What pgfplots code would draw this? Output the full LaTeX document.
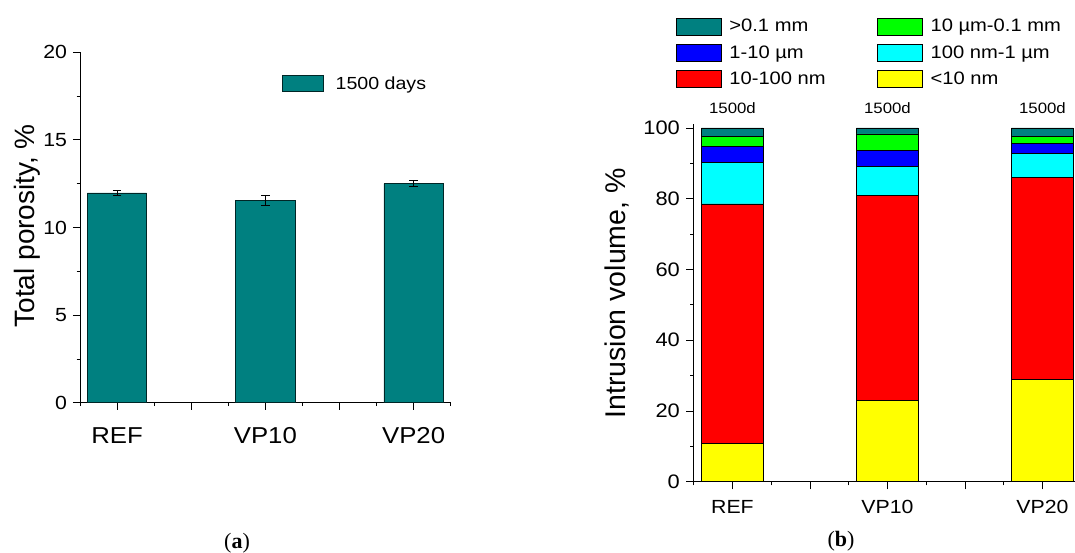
\documentclass[border=0pt]{standalone}
\usepackage{fontspec}
\setmainfont{Liberation Sans}[FakeStretch=1.12]
\newfontfamily\ylabfont{Liberation Sans}
\newfontfamily\capfont{Liberation Serif}
\usepackage{pgfplots}
\pgfplotsset{compat=1.18}
\usepackage{pgfplotstable}
\definecolor{cteal}{RGB}{0,128,128}
\definecolor{cgreen}{RGB}{0,255,0}
\definecolor{cblue}{RGB}{0,0,255}
\definecolor{ccyan}{RGB}{0,255,255}
\definecolor{cred}{RGB}{255,0,0}
\definecolor{cyellow}{RGB}{255,255,0}
\newcommand\fs[1]{\fontsize{#1}{#1}\selectfont}

\pgfplotstableread{
x y e
0 11.97 0.15
1 11.54 0.27
2 12.51 0.19
}\porosity

\pgfplotstableread{
x lt10 nm10 nm100 um1 um10 mm01
0 10.7 67.8 11.8 4.5 2.7 2.5
1 23.0 58.0 8.0 4.6 4.7 1.7
2 28.9 57.1 6.7 2.8 2.1 2.4
}\intrusion

\begin{document}
\begin{tikzpicture}[x=1pt,y=1pt]
\useasboundingbox (0,0) rectangle (1075,552);
% ---------------- (a)
\begin{axis}[
  at={(80pt,149.3pt)}, anchor=south west,
  scale only axis, width=370.7pt, height=350.4pt,
  xmin=-0.25, xmax=2.25, ymin=0, ymax=20,
  axis lines=left, axis line style={-, line width=1pt},
  ybar, bar width=0.4,
  legend image code/.code={\draw[#1] (0pt,-7.8pt) rectangle (41pt,7.8pt);},
  xtick={0,0.5,1,1.5,2}, xticklabels={REF,,VP10,,VP20},
  minor xtick={-0.25,0.25,0.75,1.25,1.75,2.25},
  ytick={0,5,10,15,20}, minor ytick={2.5,7.5,12.5,17.5},
  tick align=outside, major tick length=7pt, minor tick length=3.5pt,
  tick style={black, line width=0.8pt},
  /pgf/number format/assume math mode=true,
  yticklabel style={font=\fs{19}, inner sep=0pt, anchor=east, xshift=-5.8pt},
  xticklabel style={font=\fs{23}, inner sep=0pt, anchor=north, yshift=-17.5pt},
  ylabel={Total porosity,~\%},
  ylabel style={font=\ylabfont\fs{28}, at={([xshift=-45pt]axis description cs:0,0.505)}, anchor=base},
  legend style={at={(axis description cs:0.544,0.911)}, anchor=west, draw=none, fill=none,
    inner sep=0pt, nodes={inner sep=0pt}, font=\fs{17.5},
    /tikz/every odd column/.append style={column sep=12pt}},
  clip=false,
]
\addplot[fill=cteal, draw=black!70!cteal, line width=0.8pt,
  error bars/.cd, y dir=both, y explicit,
  error bar style={black, line width=0.8pt},
  error mark options={black, rotate=90, mark size=4.3pt, line width=0.8pt}]
  table[x=x, y=y, y error=e]{\porosity};
\addlegendentry{1500 days}
\end{axis}
% ---------------- (b)
\begin{axis}[
  at={(693.7pt,70.3pt)}, anchor=south west,
  scale only axis, width=381.3pt, height=357.3pt,
  xmin=-0.25, xmax=2.21, ymin=0, ymax=101,
  axis lines=left, axis line style={-, line width=1pt},
  ybar stacked, bar width=0.4,
  legend image code/.code={\draw[#1] (0pt,-8.5pt) rectangle (45.4pt,8.5pt);},
  xtick={0,0.5,1,1.5,2}, xticklabels={REF,,VP10,,VP20},
  minor xtick={-0.25,0.25,0.75,1.25,1.75},
  ytick={0,20,40,60,80,100}, minor ytick={10,30,50,70,90},
  tick align=outside, major tick length=7.7pt, minor tick length=3.7pt,
  tick style={black, line width=0.8pt},
  /pgf/number format/assume math mode=true,
  yticklabel style={font=\fs{19.5}, inner sep=0pt, anchor=east, xshift=-6pt},
  xticklabel style={font=\fs{19}, inner sep=0pt, anchor=north, yshift=-11pt},
  ylabel={Intrusion volume,~\%},
  ylabel style={font=\ylabfont\fs{28.5}, at={([xshift=-68.4pt]axis description cs:0,0.527)}, anchor=base},
  reverse legend, legend columns=2, legend cell align=left,
  legend style={at={(axis description cs:-0.048,1.2997)}, anchor=north west, draw=none, fill=none,
    inner sep=0pt, nodes={inner sep=0pt}, font=\fs{18}, row sep=8.5pt,
    /tikz/every odd column/.append style={column sep=7.6pt},
    /tikz/every even column/.append style={column sep=51pt}},
  clip=false,
]
\addplot[fill=cyellow, draw=black, line width=0.8pt] table[x=x, y=lt10]{\intrusion};
\addlegendentry{<10 nm}
\addplot[fill=cred, draw=black, line width=0.8pt] table[x=x, y=nm10]{\intrusion};
\addlegendentry{10-100 nm}
\addplot[fill=ccyan, draw=black, line width=0.8pt] table[x=x, y=nm100]{\intrusion};
\addlegendentry{100 nm-1 µm}
\addplot[fill=cblue, draw=black, line width=0.8pt] table[x=x, y=um1]{\intrusion};
\addlegendentry{1-10 µm}
\addplot[fill=cgreen, draw=black, line width=0.8pt] table[x=x, y=um10]{\intrusion};
\addlegendentry{10 µm-0.1 mm}
\addplot[fill=cteal, draw=black, line width=0.8pt] table[x=x, y=mm01]{\intrusion};
\addlegendentry{>0.1 mm}
\node[font=\fs{15}] at (axis cs:0,105.6) {1500d};
\node[font=\fs{15}] at (axis cs:1,105.6) {1500d};
\node[font=\fs{15}] at (axis cs:2,105.6) {1500d};
\end{axis}
\node[font=\capfont\fs{22}] at (237,8.5) {(\textbf{a})};
\node[font=\capfont\fs{22}] at (841,10.3) {(\textbf{b})};
\end{tikzpicture}
\end{document}
